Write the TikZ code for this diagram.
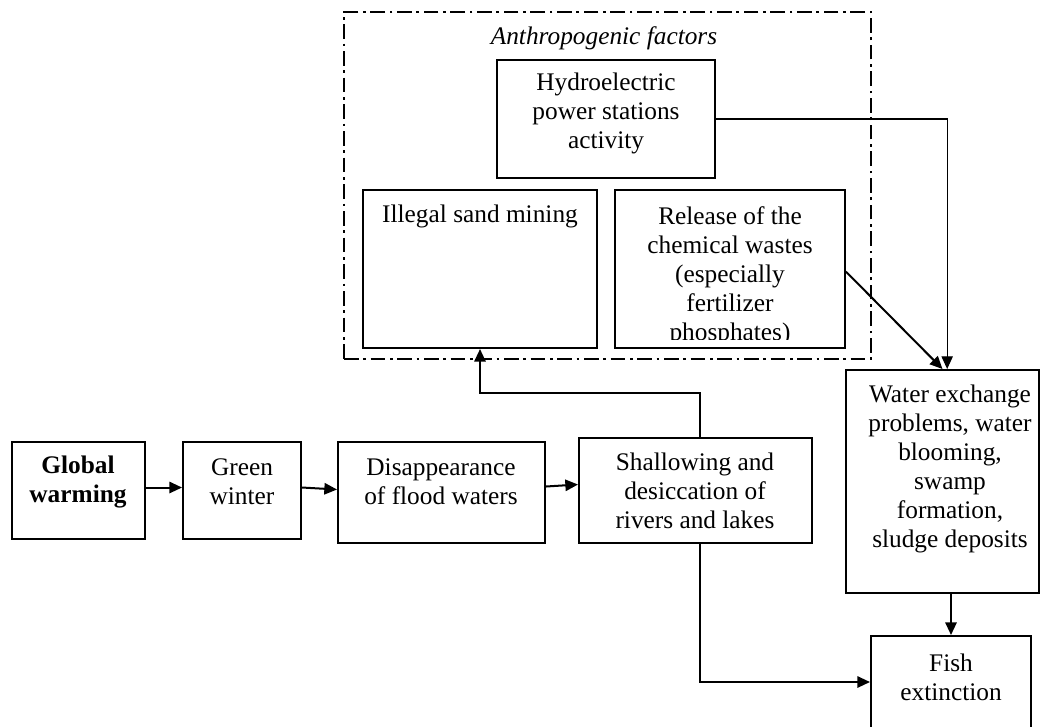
\documentclass[tikz,border=0pt]{standalone}
\usepackage{fontspec}
\setmainfont{Liberation Serif}
\usetikzlibrary{arrows.meta,fit}
\begin{document}
\begin{tikzpicture}[x=0.75pt,y=-0.75pt,
  box/.style={draw, line width=1.5pt, inner sep=0pt},
  txt/.style={align=center, inner sep=0pt, font=\fontsize{19}{21.75}\selectfont},
  arr/.style={line width=1.5pt, -{Triangle[length=9.5pt,width=8.5pt]}},
  thinarr/.style={line width=0.8pt, -{Triangle[length=9.5pt,width=8.5pt]}},
  framed/.style={line width=1.2pt, dash pattern=on 11pt off 3.5pt on 2pt off 3.5pt}]
\clip (0,0) rectangle (1041,726);
\fill[white] (0,0) rectangle (1041,726);

% group of anthropogenic factors
\node[framed, draw, inner sep=0pt, fit={(344,12)(871,359)}] (group) {};
\node[txt, font=\fontsize{19}{21.75}\selectfont\itshape] (tgroup) at (604,38) {Anthropogenic factors};

% boxes
\node[box, fit={(497,60)(715,178)}] (hydro) {};
\node[box, fit={(363,190)(597,348)}] (sand) {};
\node[box, fit={(615,190)(845,348)}] (release) {};
\node[box, fit={(846,370)(1039,593)}] (water) {};
\node[box, fit={(871,636)(1031,728)}] (fish) {};
\node[box, fit={(12,442)(145,539)}] (global) {};
\node[box, fit={(183,442)(301,539)}] (green) {};
\node[box, fit={(338,442)(545,543)}] (flood) {};
\node[box, fit={(579,438)(812,543)}] (shallow) {};

% labels
\node[txt] (thydro) at (606,113) {Hydroelectric\\power stations\\activity};
\node[txt] (tsand) at (480,216) {Illegal sand mining};
\begin{scope}
  % the last line of this box is cut off at its baseline
  \clip ([yshift=7pt]release.south west) rectangle (release.north east);
  \node[txt] (trelease) at (730,276) {Release of the\\chemical wastes\\(especially\\fertilizer\\phosphates)};
\end{scope}
\node[txt] (twater) at (950,469) {Water exchange\\problems, water\\blooming,\\swamp\\formation,\\sludge deposits};
\node[txt] (tfish) at (951,677) {Fish\\extinction};
\node[txt, font=\fontsize{19}{21.75}\selectfont\bfseries] (tglobal) at (78,482) {Global\\warming};
\node[txt] (tgreen) at (242,482) {Green\\winter};
\node[txt] (tflood) at (441,482) {Disappearance\\of flood waters};
\node[txt] (tshallow) at (695,491) {Shallowing and\\desiccation of\\rivers and lakes};

% connectors
\draw[arr] ([yshift=2.25pt]global.east) -- ([yshift=2.25pt]green.west);
\draw[arr] ([yshift=2.25pt]green.east) -- ([yshift=2.25pt]flood.west);
\draw[arr] ([yshift=4.5pt]flood.east) -- ([yshift=4.5pt]shallow.west);
\draw[arr] ([xshift=3pt]shallow.north) -- ++(0,-44) -| (sand.south);
\draw[arr] ([xshift=3pt]shallow.south) |- (fish.west);
\draw[thinarr] (hydro.east) -| ([xshift=3.5pt]water.north);
\draw[arr] ([yshift=-2pt]release.east) -- (water.north);
\draw[arr] (fish.north |- water.south) -- (fish.north);
\end{tikzpicture}
\end{document}
